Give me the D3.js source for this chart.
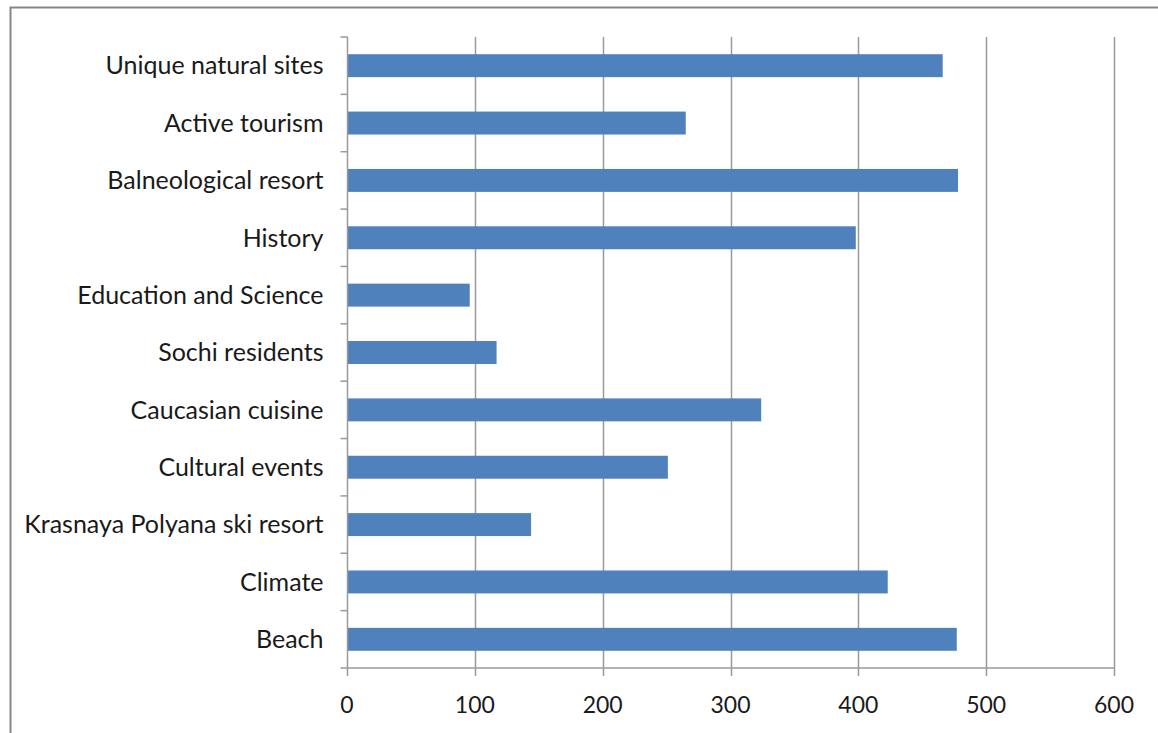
<!DOCTYPE html>
<html>
<head>
<meta charset="utf-8">
<script src="https://cdn.jsdelivr.net/npm/d3@7"></script>
<style>
  body { margin: 0; background: #fff; }
  text { font-family: Lato, "Open Sans", sans-serif; fill: #1a1a1a; }
</style>
</head>
<body>
<div id="chart"></div>
<script>
// --- Data ---
const categories = [
  "Unique natural sites", "Active tourism", "Balneological resort", "History",
  "Education and Science", "Sochi residents", "Caucasian cuisine", "Cultural events",
  "Krasnaya Polyana ski resort", "Climate", "Beach"
];
const values = [466, 265, 478, 398, 96, 117, 324, 251, 144, 423, 477];
const xTicks = [0, 100, 200, 300, 400, 500, 600];

// --- SVG Setup ---
const width = 1158;
const height = 733;
const margin = { top: 37, right: 44, bottom: 65, left: 347 };

const svg = d3.select("#chart")
  .append("svg")
  .attr("width", width)
  .attr("height", height);

// outer frame
svg.append("rect")
  .attr("x", 10.5).attr("y", 7.5)
  .attr("width", 1200).attr("height", 800)
  .attr("fill", "none")
  .attr("stroke", "#878787")
  .attr("stroke-width", 2);

const x = d3.scaleLinear()
  .domain([0, 600])
  .range([margin.left, width - margin.right]);

const y = d3.scaleBand()
  .domain(categories)
  .range([margin.top, height - margin.bottom])
  .paddingInner(0.6)
  .paddingOuter(0.3);

const bandStep = y.step();

// --- Gridlines ---
svg.selectAll(".grid")
  .data(xTicks.slice(1))
  .enter()
  .append("line")
  .attr("x1", d => Math.round(x(d)) + 0.5)
  .attr("x2", d => Math.round(x(d)) + 0.5)
  .attr("y1", margin.top)
  .attr("y2", height - margin.bottom)
  .attr("stroke", "#9a9a9a")
  .attr("stroke-width", 1.5);

// --- Bars ---
svg.selectAll(".bar")
  .data(values)
  .enter()
  .append("rect")
  .attr("x", x(0))
  .attr("y", (d, i) => y(categories[i]))
  .attr("width", d => x(d) - x(0))
  .attr("height", y.bandwidth())
  .attr("fill", "#4f81bd");

// --- Y axis ---
const yAxisG = svg.append("g")
  .attr("transform", `translate(${Math.round(x(0)) + 0.5},0)`);

yAxisG.append("line")
  .attr("y1", margin.top).attr("y2", height - margin.bottom)
  .attr("stroke", "#9a9a9a").attr("stroke-width", 1.5);

// ticks at band boundaries
const boundaries = d3.range(categories.length + 1).map(i => margin.top + i * bandStep);
yAxisG.selectAll(".ytick")
  .data(boundaries)
  .enter()
  .append("line")
  .attr("x1", -7).attr("x2", 0)
  .attr("y1", d => d).attr("y2", d => d)
  .attr("stroke", "#9a9a9a").attr("stroke-width", 1.5);

yAxisG.selectAll(".ylabel")
  .data(categories)
  .enter()
  .append("text")
  .attr("x", -24)
  .attr("y", d => y(d) + y.bandwidth() / 2)
  .attr("dy", "0.35em")
  .attr("text-anchor", "end")
  .attr("font-size", "25px")
  .text(d => d);

// --- X axis ---
const xAxisG = svg.append("g")
  .attr("transform", `translate(0,${height - margin.bottom})`);

xAxisG.append("line")
  .attr("x1", x(0)).attr("x2", x(600))
  .attr("stroke", "#9a9a9a").attr("stroke-width", 1.5);

xAxisG.selectAll(".xtick")
  .data(xTicks)
  .enter()
  .append("line")
  .attr("x1", d => Math.round(x(d)) + 0.5)
  .attr("x2", d => Math.round(x(d)) + 0.5)
  .attr("y1", 0).attr("y2", 8)
  .attr("stroke", "#9a9a9a").attr("stroke-width", 1.5);

xAxisG.selectAll(".xlabel")
  .data(xTicks)
  .enter()
  .append("text")
  .attr("x", d => x(d))
  .attr("y", 37)
  .attr("dy", "0.35em")
  .attr("text-anchor", "middle")
  .attr("font-size", "23px")
  .text(d => d);
</script>
</body>
</html>
